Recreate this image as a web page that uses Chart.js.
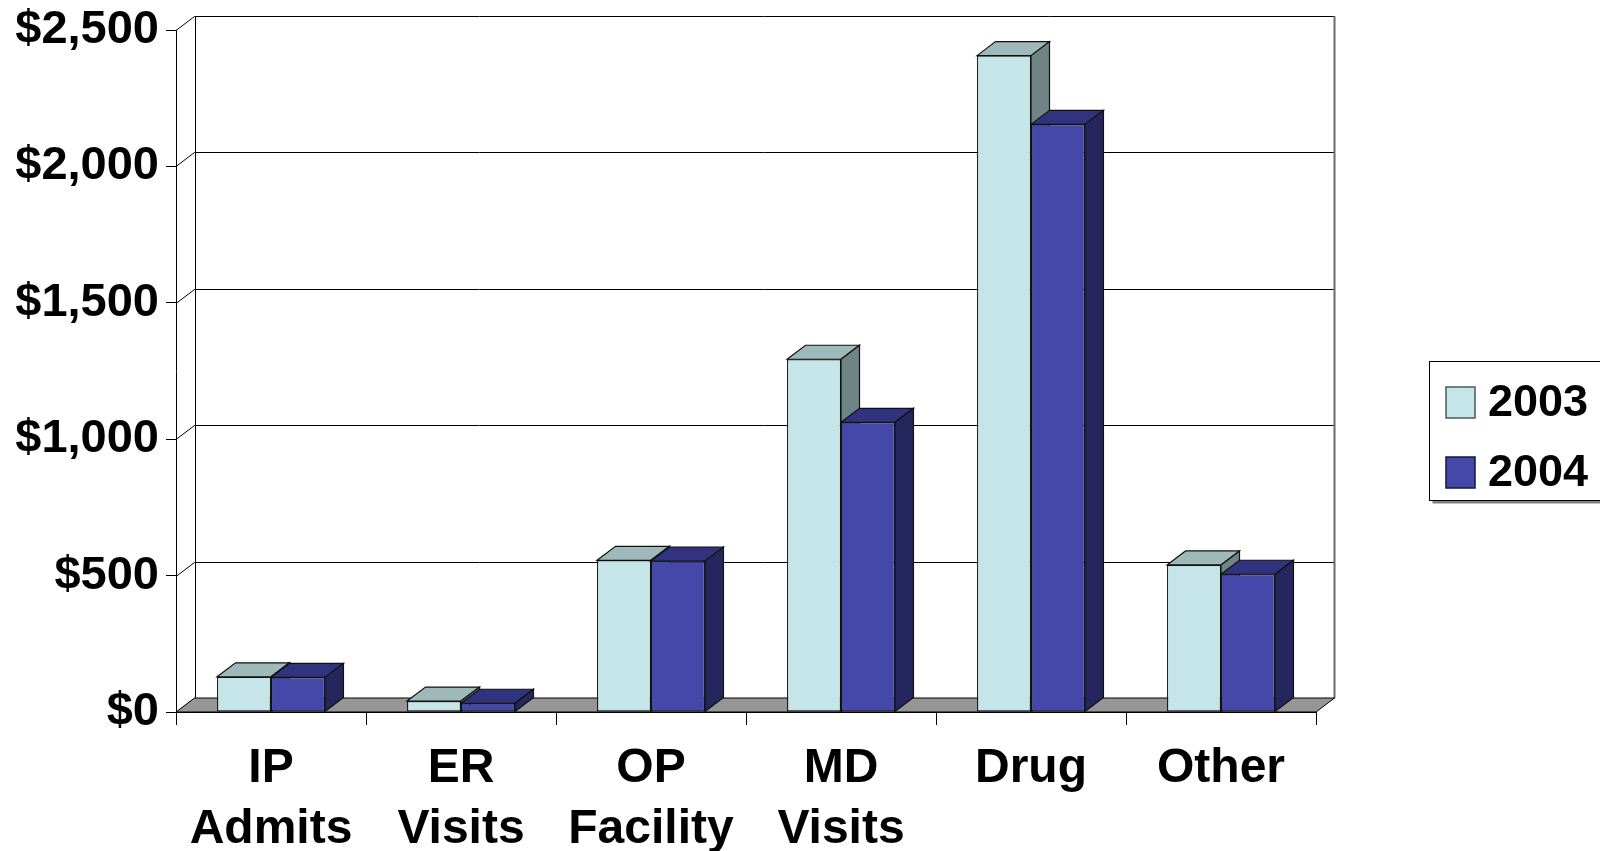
<!DOCTYPE html>
<html>
<head>
<meta charset="utf-8">
<script src="https://cdn.jsdelivr.net/npm/chart.js@4.4.1/dist/chart.umd.min.js"></script>
<style>
  html, body { margin: 0; padding: 0; background: #fff; overflow: hidden; }
  canvas { display: block; }
</style>
</head>
<body>
<canvas id="chart" width="1600" height="851"></canvas>
<script>
// Spending per member by service category
const categories = [['IP', 'Admits'], ['ER', 'Visits'], ['OP', 'Facility'], ['MD', 'Visits'], 'Drug', 'Other'];
const seriesNames = ['2003', '2004'];
const values2003 = [129, 40, 556, 1293, 2406, 539];
const values2004 = [127, 32, 553, 1062, 2154, 505];
const yTickLabels = ['$0', '$500', '$1,000', '$1,500', '$2,000', '$2,500'];

// Face shading for the pseudo-3D columns
const FRONT = ['#C6E5E8', '#4348A9'];
const TOP = ['#9FB9BA', '#31337F'];
const SIDE = ['#6F8485', '#25265E'];
const DX = 18.5, DY = -14;   // depth offset of the back plane
const FONT = 'Liberation Sans, Arial, Helvetica, sans-serif';

function poly(ctx, pts, fill, stroke, lw) {
  ctx.beginPath();
  ctx.moveTo(pts[0][0], pts[0][1]);
  for (let i = 1; i < pts.length; i++) ctx.lineTo(pts[i][0], pts[i][1]);
  ctx.closePath();
  if (fill) { ctx.fillStyle = fill; ctx.fill(); }
  if (stroke) { ctx.strokeStyle = stroke; ctx.lineWidth = lw || 1; ctx.stroke(); }
}

const depthPlugin = {
  id: 'depth',
  beforeDraw(chart) {
    const { ctx, chartArea: a, scales: { y } } = chart;
    ctx.save();
    ctx.fillStyle = '#fff';
    ctx.fillRect(0, 0, chart.width, chart.height);
    const bl = a.left + DX, br = a.right + DX, bt = a.top + DY, bb = a.bottom + DY;
    // gridlines on the back wall, joined to the front axis by short diagonals
    ctx.strokeStyle = '#000';
    ctx.lineWidth = 1;
    y.ticks.forEach(t => {
      const py = Math.round(y.getPixelForValue(t.value)) + 0.5;
      ctx.beginPath();
      ctx.moveTo(a.left, py);
      ctx.lineTo(bl, py + DY);
      ctx.lineTo(br, py + DY);
      ctx.stroke();
    });
    // back wall left edge
    ctx.beginPath();
    ctx.moveTo(Math.round(bl) + 0.5, bt);
    ctx.lineTo(Math.round(bl) + 0.5, bb);
    ctx.stroke();
    // back wall right edge
    ctx.strokeStyle = '#6a6a6a';
    ctx.lineWidth = 2;
    ctx.beginPath();
    ctx.moveTo(br, bt);
    ctx.lineTo(br, bb);
    ctx.stroke();
    ctx.restore();
  },
  beforeDatasetsDraw(chart) {
    const { ctx, chartArea: a } = chart;
    ctx.save();
    // floor
    poly(ctx, [[a.left, a.bottom], [a.left + DX, a.bottom + DY], [a.right + DX, a.bottom + DY], [a.right, a.bottom]],
      '#969696', '#000', 1);
    // top and side faces of each column, back to front
    const n = chart.data.labels.length;
    for (let j = 0; j < n; j++) {
      chart.data.datasets.forEach((ds, i) => {
        const bar = chart.getDatasetMeta(i).data[j];
        const p = bar.getProps(['x', 'y', 'base', 'width'], true);
        const l = p.x - p.width / 2, r = p.x + p.width / 2, t = p.y, b = p.base;
        poly(ctx, [[l, t], [l + DX, t + DY], [r + DX, t + DY], [r, t]], TOP[i], '#111', 1.2);
        poly(ctx, [[r, t], [r + DX, t + DY], [r + DX, b + DY], [r, b]], SIDE[i], '#111', 1.2);
      });
    }
    ctx.restore();
  },
  afterDraw(chart) {
    const { ctx } = chart;
    ctx.save();
    // legend frame with drop shadow
    const lx = 1429.5, ly = 361.5, lw = 200, lh = 139;
    ctx.fillStyle = '#808080';
    ctx.fillRect(lx + 3, ly + 3, lw, lh);
    ctx.fillStyle = '#fff';
    ctx.fillRect(lx, ly, lw, lh);
    ctx.strokeStyle = '#000';
    ctx.lineWidth = 1;
    ctx.strokeRect(lx, ly, lw, lh);
    ctx.font = 'bold 45px ' + FONT;
    ctx.textBaseline = 'middle';
    ctx.textAlign = 'left';
    chart.data.datasets.forEach((ds, i) => {
      const cy = 402 + i * 70;
      ctx.fillStyle = FRONT[i];
      ctx.fillRect(1446, cy - 15, 29, 31);
      ctx.strokeStyle = i === 0 ? '#4a5a5b' : '#15163a';
      ctx.lineWidth = 1.5;
      ctx.strokeRect(1446, cy - 15, 29, 31);
      ctx.fillStyle = '#000';
      ctx.fillText(ds.label, 1488, cy + 2);
    });
    ctx.restore();
  }
};

const series = [values2003, values2004];
new Chart(document.getElementById('chart'), {
  type: 'bar',
  data: {
    labels: categories,
    datasets: seriesNames.map((name, i) => ({
      label: name,
      data: series[i],
      backgroundColor: FRONT[i],
      borderColor: '#111',
      borderWidth: 1.2,
      borderSkipped: false,
      barPercentage: 1,
      categoryPercentage: 0.568
    }))
  },
  options: {
    responsive: false,
    animation: false,
    events: [],
    layout: { padding: { left: 0, top: 30, right: 284, bottom: 0 } },
    plugins: { legend: { display: false }, tooltip: { enabled: false } },
    scales: {
      x: {
        offset: true,
        grid: { display: true, drawOnChartArea: false, drawTicks: true, tickLength: 13, color: '#000', lineWidth: 1, offset: true },
        border: { display: true, color: '#000', width: 1 },
        ticks: {
          color: '#000', padding: 13, maxRotation: 0, minRotation: 0, autoSkip: false,
          font: { family: FONT, weight: 'bold', size: 48, lineHeight: 1.28 }
        },
        afterFit(s) { s.height = 139; s.paddingLeft = 0; s.paddingRight = 0; }
      },
      y: {
        min: 0, max: 2500,
        grid: { display: true, drawOnChartArea: false, drawTicks: true, tickLength: 10, color: '#000', lineWidth: 1 },
        border: { display: true, color: '#000', width: 1 },
        ticks: {
          stepSize: 500, color: '#000', padding: 7,
          font: { family: FONT, weight: 'bold', size: 47 },
          callback: (v, i) => yTickLabels[i]
        },
        afterFit(s) { s.width = 176; s.paddingTop = 0; s.paddingBottom = 0; }
      }
    }
  },
  plugins: [depthPlugin]
});
</script>
</body>
</html>
